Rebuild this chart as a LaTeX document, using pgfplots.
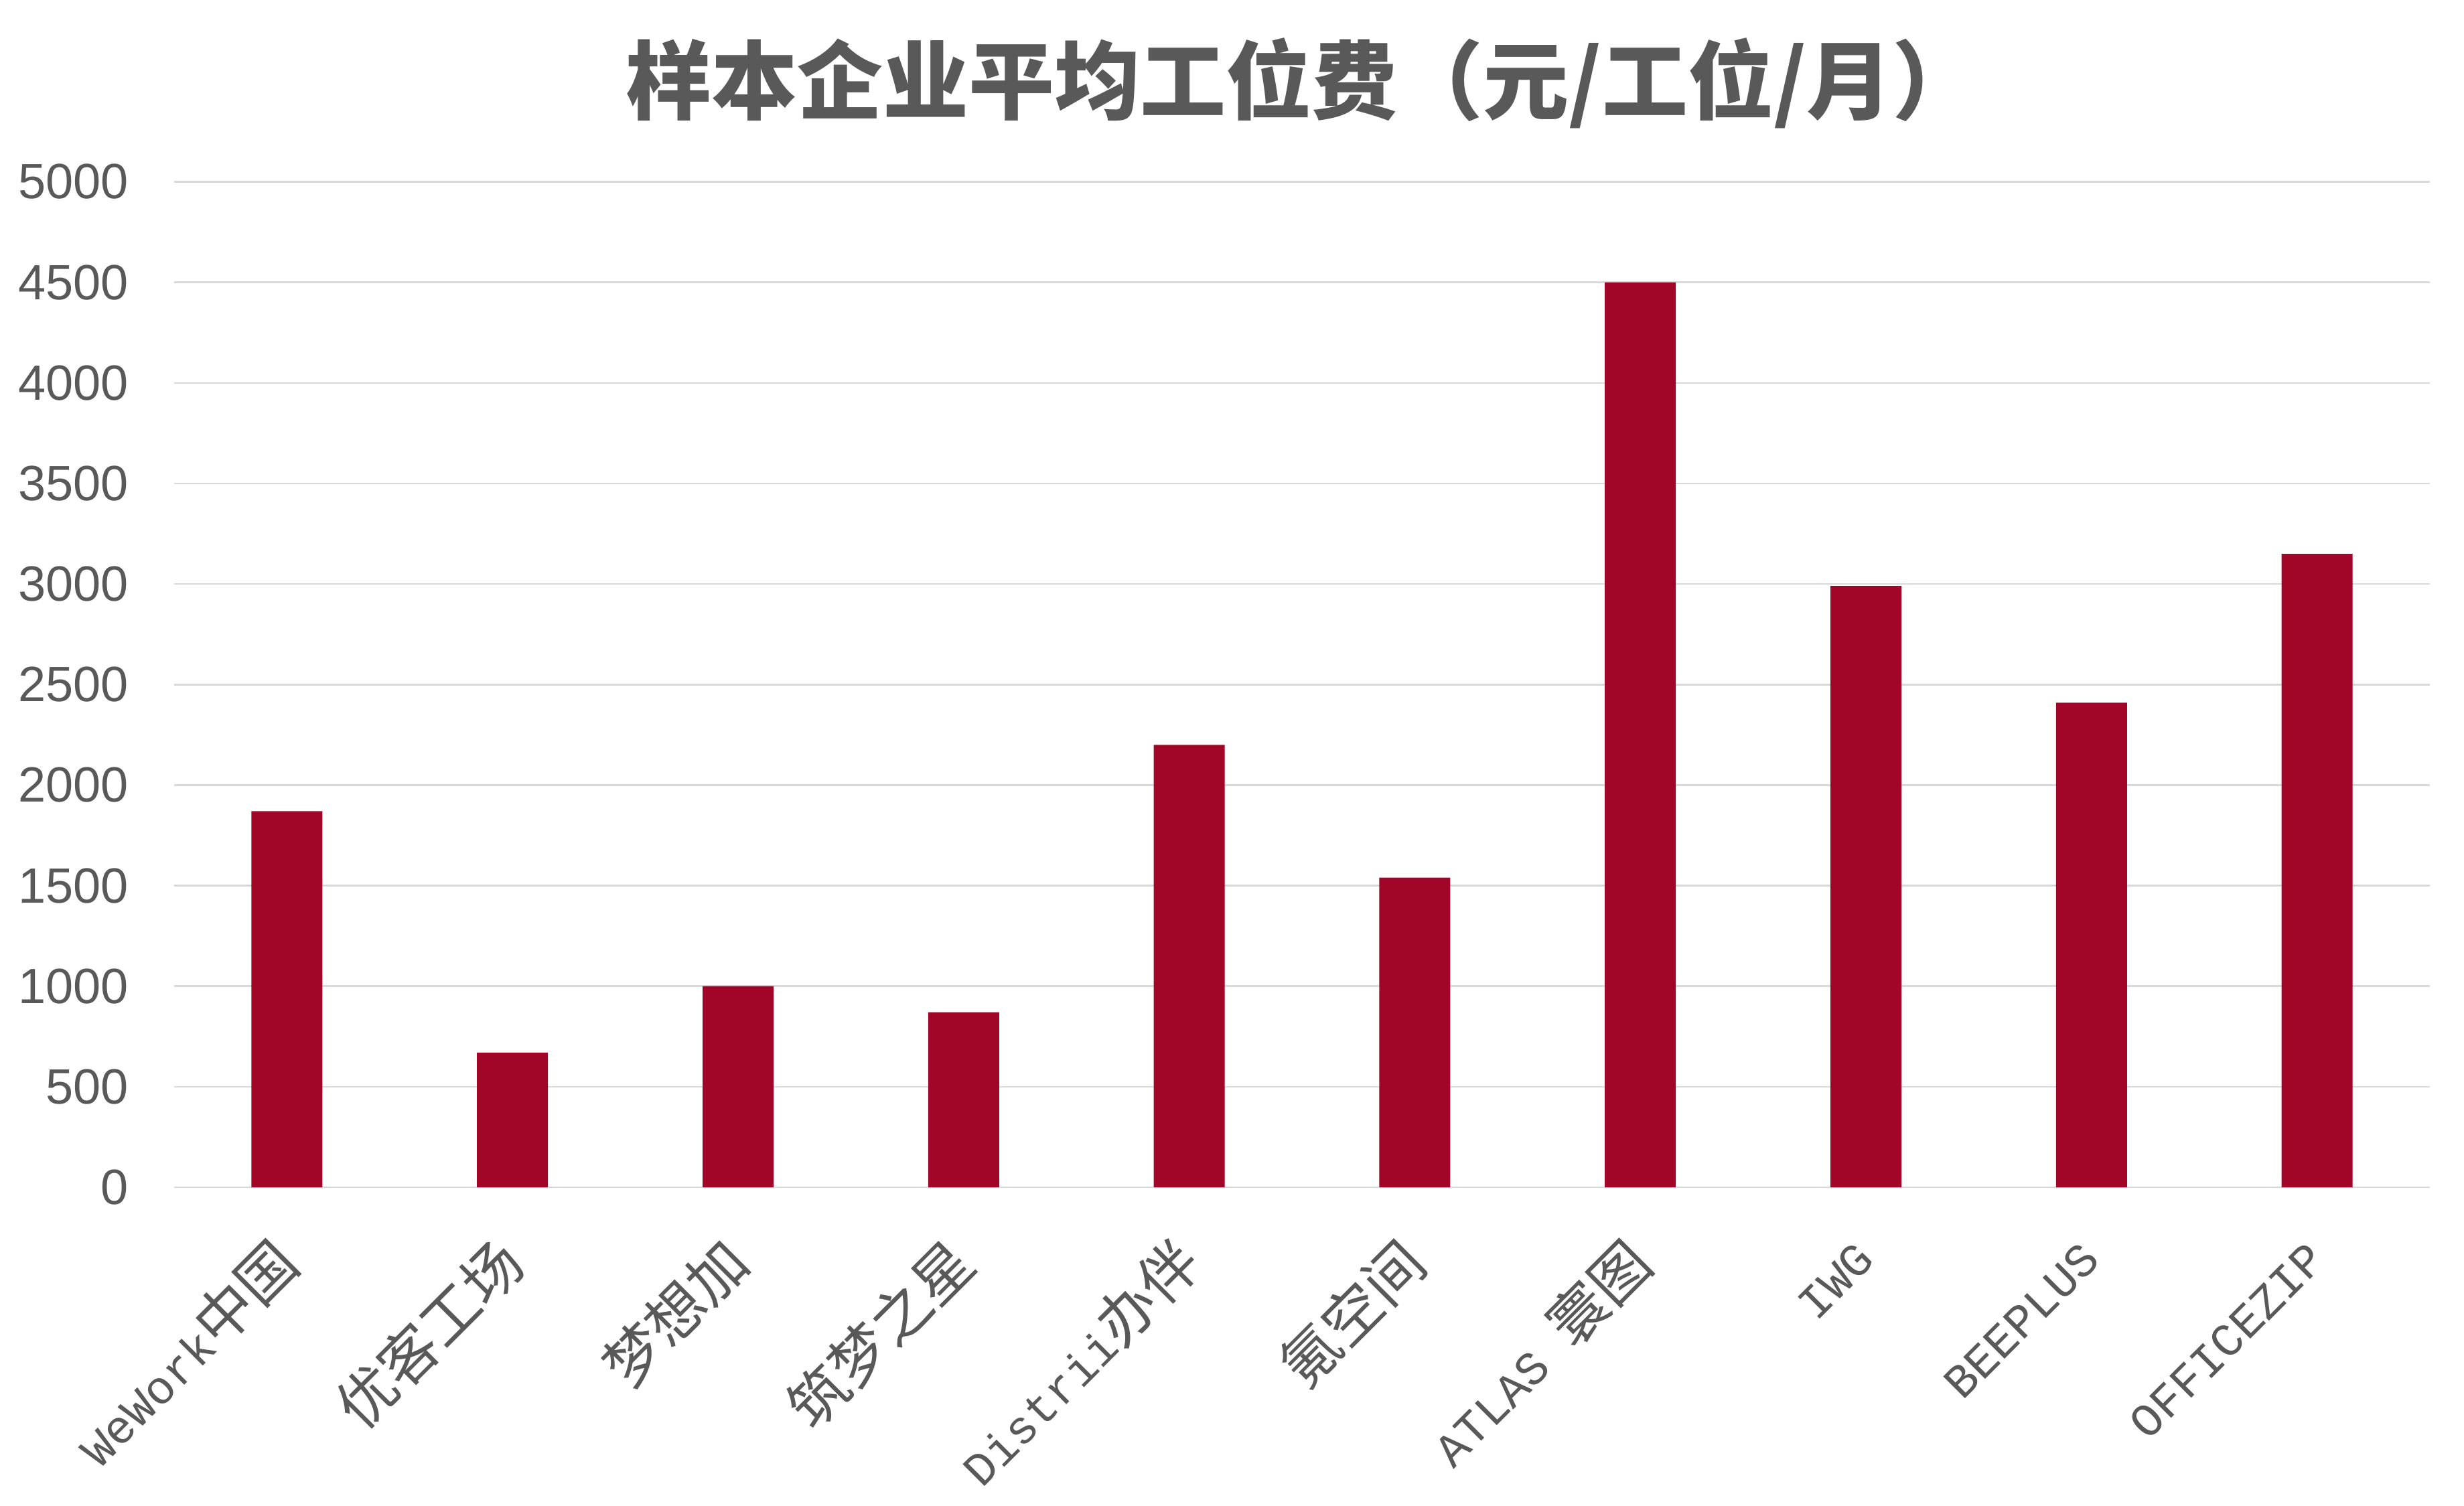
\documentclass[border=0pt]{standalone}
\usepackage{fontspec}
\setmainfont{Noto Sans CJK SC}
\newfontfamily\arial{Liberation Sans}
\newfontfamily\latmono[Scale=0.8]{Liberation Mono}
\usepackage{pgfplots}
\pgfplotsset{compat=1.18}
\definecolor{barred}{HTML}{A10628}
\definecolor{txtgray}{HTML}{595959}
\definecolor{gridgray}{HTML}{D9D9D9}
\newcommand\lm[1]{{\latmono #1}}

\begin{document}
\begin{tikzpicture}
\begin{axis}[
  at={(0,0)}, anchor=south west,
  scale only axis,
  width=673.6pt, height=300.3pt,
  ybar, bar width=21.2pt,
  xmin=-0.5, xmax=9.5,
  ymin=0, ymax=5000,
  ytick={0,500,...,5000},
  xtick=data,
  xticklabels={{\lm{WeWork}中国},优客工场,梦想加,筑梦之星,{\lm{Distrii}办伴},氪空间,{\lm{ATLAS }寰图},\lm{IWG},\lm{BEEPLUS},\lm{OFFICEZIP}},
  axis line style={draw=none},
  major tick length=0pt,
  ymajorgrids, grid style={gridgray, line width=0.5pt},
  tick label style={text=txtgray},
  yticklabel style={font=\arial\fontsize{14.8}{16}\selectfont, inner sep=0pt, xshift=-13.4pt},
  /pgf/number format/assume math mode=true,
  /pgf/number format/1000 sep={},
  xticklabel style={font=\fontsize{17.5}{20}\selectfont, inner sep=0pt, yshift=-19pt, rotate=45, anchor=east},
  title={样本企业平均工位费（元/工位/月）},
  title style={at={(0.5,1.078)}, anchor=center, font=\bfseries\fontsize{25.6}{30}\selectfont, text=txtgray},
  clip=false
]
\addplot[fill=barred, draw=none] coordinates {(0,1870) (1,670) (2,1000) (3,870) (4,2200) (5,1540) (6,4500) (7,2990) (8,2410) (9,3150)};
\end{axis}
\pgfresetboundingbox
\path (-52pt,-95pt) rectangle (683.8pt,354.6pt);
\end{tikzpicture}
\end{document}
